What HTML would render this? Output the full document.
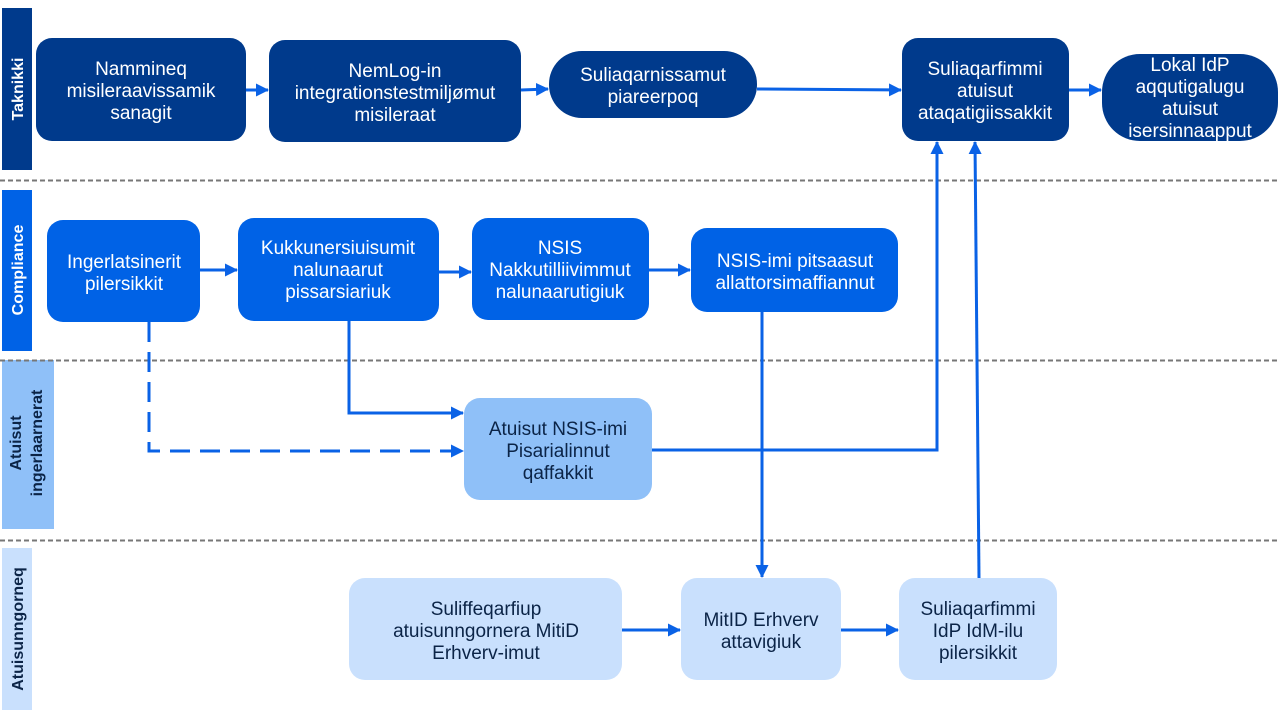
<!DOCTYPE html>
<html><head><meta charset="utf-8"><style>
html,body{margin:0;padding:0;background:#fff;}
svg{display:block;}
.t{font-family:"Liberation Sans",sans-serif;font-size:19px;text-anchor:middle;}
.w{fill:#fff;} .d{fill:#0b2447;}
.l{font-family:"Liberation Sans",sans-serif;font-size:16px;font-weight:bold;text-anchor:middle;}
</style></head><body>
<svg width="1280" height="720" viewBox="0 0 1280 720">
<defs>
<marker id="a" markerWidth="13" markerHeight="13" refX="12" refY="6.5" orient="auto" markerUnits="userSpaceOnUse"><path d="M0,0 L13,6.5 L0,13 z" fill="#0a62e6"/></marker>
</defs>
<rect x="2" y="8" width="30" height="162" fill="#003a8c"/>
<rect x="2" y="190" width="30" height="161" fill="#0062e6"/>
<rect x="2" y="360" width="52" height="169" fill="#8fc0f8"/>
<rect x="2" y="548" width="30" height="162" fill="#c9e0fd"/>
<text class="l" fill="#fff" transform="translate(23,89) rotate(-90)">Taknikki</text>
<text class="l" fill="#fff" transform="translate(23,270) rotate(-90)">Compliance</text>
<text class="l" fill="#0b2447" transform="translate(21,443) rotate(-90)">Atuisut</text>
<text class="l" fill="#0b2447" transform="translate(42,443) rotate(-90)">ingerlaarnerat</text>
<text class="l" fill="#0b2447" transform="translate(23,629) rotate(-90)">Atuisunngorneq</text>
<g stroke="#777" stroke-width="2" stroke-dasharray="5,3">
<line x1="0" y1="180.5" x2="1280" y2="180.5"/>
<line x1="0" y1="360.5" x2="1280" y2="360.5"/>
<line x1="0" y1="540.5" x2="1280" y2="540.5"/>
</g>
<g stroke="#0a62e6" stroke-width="3" fill="none" marker-end="url(#a)">
<line x1="246" y1="90" x2="268" y2="90"/>
<line x1="521" y1="90" x2="548" y2="89"/>
<line x1="757" y1="89" x2="901" y2="90"/>
<line x1="1069" y1="90" x2="1101" y2="90"/>
<line x1="200" y1="270" x2="237" y2="270"/>
<line x1="439" y1="272" x2="471" y2="272"/>
<line x1="649" y1="270" x2="690" y2="270"/>
<polyline points="349,321 349,413 463,413"/>
<polyline points="149,322 149,451 463,451" stroke-dasharray="20,10"/>
<polyline points="652,450 937,450 937,142"/>
<line x1="979" y1="578" x2="975" y2="142"/>
<line x1="762" y1="312" x2="762" y2="577"/>
<line x1="622" y1="630" x2="680" y2="630"/>
<line x1="841" y1="630" x2="898" y2="630"/>
</g>
<g fill="#003a8c">
<rect x="36" y="38" width="210" height="103" rx="16"/>
<rect x="269" y="40" width="252" height="102" rx="16"/>
<rect x="549" y="51" width="208" height="67" rx="33"/>
<rect x="902" y="38" width="167" height="103" rx="16"/>
<rect x="1102" y="54" width="176" height="87" rx="38"/>
</g>
<g fill="#0062e6">
<rect x="47" y="220" width="153" height="102" rx="16"/>
<rect x="238" y="218" width="201" height="103" rx="16"/>
<rect x="472" y="218" width="177" height="102" rx="16"/>
<rect x="691" y="228" width="207" height="84" rx="16"/>
</g>
<rect x="464" y="398" width="188" height="102" rx="16" fill="#8fc0f8"/>
<g fill="#c9e0fd">
<rect x="349" y="578" width="273" height="102" rx="16"/>
<rect x="681" y="578" width="160" height="102" rx="16"/>
<rect x="899" y="578" width="158" height="102" rx="16"/>
</g>
<g class="t w">
<text x="141" y="75">Nammineq</text>
<text x="141" y="97">misileraavissamik</text>
<text x="141" y="119">sanagit</text>
<text x="395" y="77">NemLog-in</text>
<text x="395" y="99">integrationstestmiljømut</text>
<text x="395" y="121">misileraat</text>
<text x="653" y="81">Suliaqarnissamut</text>
<text x="653" y="103">piareerpoq</text>
<text x="985" y="75">Suliaqarfimmi</text>
<text x="985" y="97">atuisut</text>
<text x="985" y="119">ataqatigiissakkit</text>
<text x="1190" y="71">Lokal IdP</text>
<text x="1190" y="93">aqqutigalugu</text>
<text x="1190" y="115">atuisut</text>
<text x="1190" y="137">isersinnaapput</text>
<text x="124" y="268">Ingerlatsinerit</text>
<text x="124" y="290">pilersikkit</text>
<text x="338" y="254">Kukkunersiuisumit</text>
<text x="338" y="276">nalunaarut</text>
<text x="338" y="298">pissarsiariuk</text>
<text x="560" y="254">NSIS</text>
<text x="560" y="276">Nakkutilliivimmut</text>
<text x="560" y="298">nalunaarutigiuk</text>
<text x="795" y="267">NSIS-imi pitsaasut</text>
<text x="795" y="289">allattorsimaffiannut</text>
</g>
<g class="t d">
<text x="558" y="435">Atuisut NSIS-imi</text>
<text x="558" y="457">Pisarialinnut</text>
<text x="558" y="479">qaffakkit</text>
<text x="486" y="615">Suliffeqarfiup</text>
<text x="486" y="637">atuisunngornera MitiD</text>
<text x="486" y="659">Erhverv-imut</text>
<text x="761" y="626">MitID Erhverv</text>
<text x="761" y="648">attavigiuk</text>
<text x="978" y="615">Suliaqarfimmi</text>
<text x="978" y="637">IdP IdM-ilu</text>
<text x="978" y="659">pilersikkit</text>
</g>
</svg>
</body></html>
